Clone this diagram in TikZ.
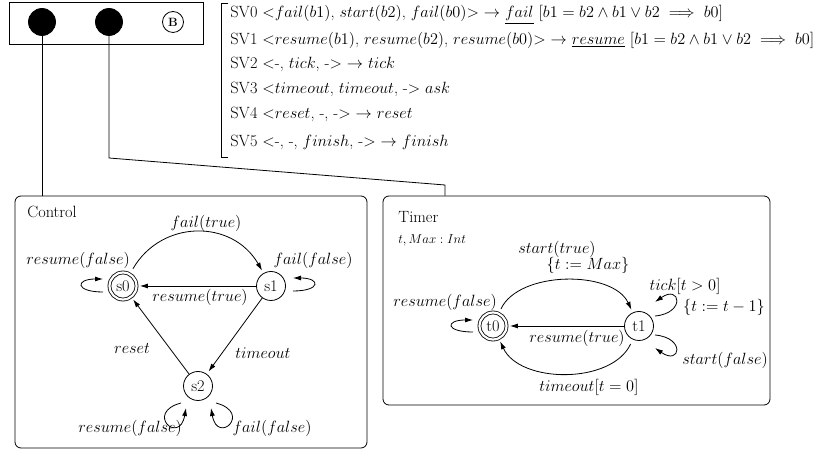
\RequirePackage{fix-cm}
\documentclass[tikz,border=0pt]{standalone}
\usepackage{amsmath}
\usetikzlibrary{arrows.meta}
\newcommand\bigf{\fontsize{16.3}{19.6}\selectfont}
\newcommand\smallf{\fontsize{13}{15.6}\selectfont}
\begin{document}
\begin{tikzpicture}[x=1pt,y=1pt,font=\bigf,line width=0.8pt,
  st/.style={circle,draw,minimum size=29pt,inner sep=0pt},
  ini/.style={circle,draw,double,double distance=2.2pt,minimum size=27pt,inner sep=0pt},
  box/.style={draw,rounded corners=6pt,inner sep=0pt},
  arr/.style={-{Latex[length=8pt,width=5pt]},shorten >=3pt},
  lp/.style={-{Latex[length=8pt,width=5pt]}},
  lbl/.style={inner sep=1pt},
  dot/.style={circle,fill=black,draw,minimum size=27pt,inner sep=0pt}]
\useasboundingbox (0,0) rectangle (838,452);

% top component box
\node[draw,minimum width=194pt,minimum height=42pt,inner sep=0pt] (top) at (106,429) {};
\node[dot] (c1) at (42,430) {};
\node[dot] (c2) at (109,430) {};
\node[circle,draw,minimum size=21pt,inner sep=0pt,font=\fontsize{12}{14}\selectfont\bfseries] (bb) at (173,430) {B};

% synchronisation vectors
\draw (228,449) -- (221,449) -- (221,295) -- (228,295);
\node[anchor=west,inner sep=0pt] (sv0) at (230,437) {SV0 $<$$fail(b1)$, $start(b2)$, $fail(b0)$$>$ $\rightarrow$ \underline{$fail$} $[b1 = b2 \wedge b1 \vee b2 \implies b0]$};
\node[anchor=west,inner sep=0pt] (sv1) at (230,412) {SV1 $<$$resume(b1)$, $resume(b2)$, $resume(b0)$$>$ $\rightarrow$ \underline{$resume$} $[b1 = b2 \wedge b1 \vee b2 \implies b0]$};
\node[anchor=west,inner sep=0pt] (sv2) at (230,388) {SV2 $<$-, $tick$, -$>$ $\rightarrow$ $tick$};
\node[anchor=west,inner sep=0pt] (sv3) at (230,363) {SV3 $<$$timeout$, $timeout$, -$>$ $ask$};
\node[anchor=west,inner sep=0pt] (sv4) at (230,338) {SV4 $<$$reset$, -, -$>$ $\rightarrow$ $reset$};
\node[anchor=west,inner sep=0pt] (sv5) at (230,310) {SV5 $<$-, -, $finish$, -$>$ $\rightarrow$ $finish$};

% component boxes
\node[box,minimum width=352pt,minimum height=252pt] (ctrl) at (191,130) {};
\node[box,minimum width=387pt,minimum height=209pt] (tmr) at (576.5,151.5) {};

% wires
\coordinate (k1) at (109,294);
\coordinate (k2) at (445,267);
\draw (c1) -- (c1 |- ctrl.north);
\draw (c2) -- (c2 |- k1) -- (k2) -- (k2 |- tmr.north);

% Control
\node[anchor=west,inner sep=0pt] (ctitle) at (27,240) {Control};
\node[ini] (s0) at (123,166) {s0};
\node[st] (s1) at (271,166) {s1};
\node[st] (s2) at (198,66) {s2};
\draw[arr,shorten <=6pt] (s0) to[out=60,in=120,looseness=1.2] (s1);
\draw[arr] (s1) -- (s0);
\draw[arr] (s1) -- (s2);
\draw[arr] (s2) -- (s0);
\draw[lp] ([shift={(-20,-6)}]s0.center) to[out=180,in=180,min distance=28pt] ([shift={(-20,7)}]s0.center);
\draw[lp] ([shift={(22,-5)}]s1.center) to[out=0,in=0,min distance=28pt] ([shift={(22,8)}]s1.center);
\draw[lp] ([shift={(-17,-17)}]s2.center) to[out=195,in=260,min distance=38pt] ([shift={(-12,-22)}]s2.center);
\draw[lp] ([shift={(18,-17)}]s2.center) to[out=-15,in=-80,min distance=38pt] ([shift={(13,-22)}]s2.center);
\node[lbl] (l1) at (206,229) {$fail(true)$};
\node[lbl] (l2) at (78,192) {$resume(false)$};
\node[lbl] (l3) at (313,192) {$fail(false)$};
\node[lbl] (l4) at (200,155) {$resume(true)$};
\node[lbl] (l5) at (132,104) {$reset$};
\node[lbl] (l6) at (263,99) {$timeout$};
\node[lbl] (l7) at (130,24) {$resume(false)$};
\node[lbl] (l8) at (272,24) {$fail(false)$};

% Timer
\node[anchor=west,inner sep=0pt] (ttitle) at (398,235) {Timer};
\node[anchor=west,inner sep=0pt,font=\smallf] (tvars) at (398,212) {$t, Max : Int$};
\node[ini] (t0) at (493,126) {t0};
\node[st] (t1) at (639,126) {t1};
\draw[arr,shorten <=5pt] (t0) to[out=65,in=115,looseness=0.9] (t1);
\draw[arr,shorten <=5pt] (t1) to[out=-115,in=-65,looseness=0.95] (t0);
\draw[arr] (t1) -- (t0);
\draw[lp] ([shift={(-20,-6)}]t0.center) to[out=180,in=180,min distance=28pt] ([shift={(-20,6)}]t0.center);
\draw[lp] ([shift={(16,10)}]t1.center) to[out=5,in=35,min distance=31pt] ([shift={(16,24)}]t1.center);
\draw[lp] ([shift={(16,-9)}]t1.center) to[out=-5,in=-35,min distance=31pt] ([shift={(16,-22)}]t1.center);
\node[lbl] (m1) at (557,203) {$start(true)$};
\node[lbl] (m2) at (588,187) {$\{t := Max\}$};
\node[lbl] (m3) at (445,150) {$resume(false)$};
\node[lbl] (m4) at (577,114) {$resume(true)$};
\node[lbl] (m5) at (589,65) {$timeout[t = 0]$};
\node[lbl] (m6) at (685,166) {$tick[t > 0]$};
\node[lbl] (m7) at (724,145) {$\{t := t - 1\}$};
\node[lbl] (m8) at (725,92) {$start(false)$};
\end{tikzpicture}
\end{document}
